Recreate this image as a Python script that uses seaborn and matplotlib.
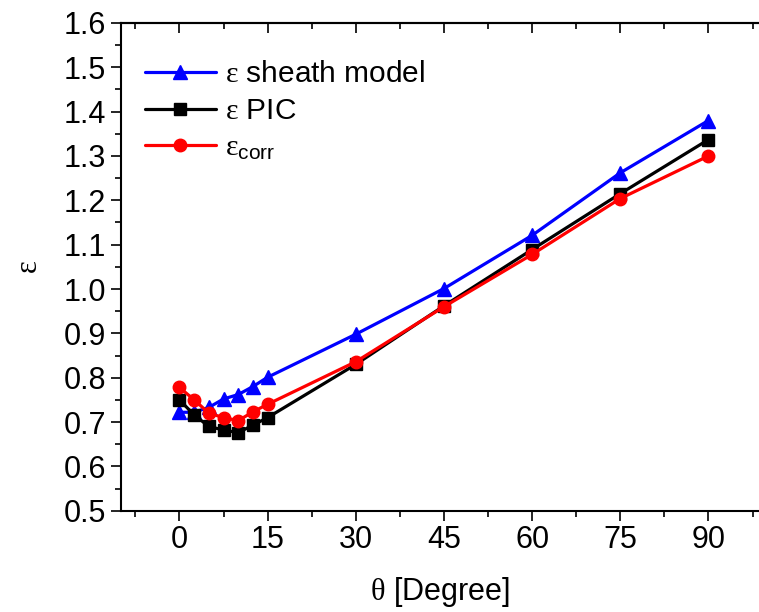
import matplotlib
matplotlib.use('Agg')
import numpy as np
import pandas as pd
import matplotlib.pyplot as plt
from matplotlib.ticker import MultipleLocator
import seaborn as sns

# data
theta = [0, 2.5, 5, 7.5, 10, 12.5, 15, 30, 45, 60, 75, 90]
eps_sheath = [0.722, 0.722, 0.733, 0.752, 0.762, 0.780, 0.801, 0.898, 1.001, 1.121, 1.262, 1.380]
eps_pic = [0.750, 0.716, 0.690, 0.682, 0.676, 0.693, 0.710, 0.830, 0.962, 1.089, 1.215, 1.337]
eps_corr = [0.778, 0.750, 0.720, 0.710, 0.703, 0.723, 0.740, 0.836, 0.960, 1.078, 1.204, 1.300]

labels = [r'$\mathit{ε}$ sheath model', r'$\mathit{ε}$ PIC', r'$\mathit{ε}_{\mathrm{corr}}$']
colors = ['#0000ff', '#000000', '#ff0000']
markers = ['^', 's', 'o']
sizes = [10.5, 8, 9]

sns.set_theme(style='ticks')
plt.rcParams['font.family'] = ['Liberation Sans', 'DejaVu Sans']
plt.rcParams['mathtext.fontset'] = 'custom'
plt.rcParams['mathtext.rm'] = 'Liberation Sans'
plt.rcParams['mathtext.it'] = 'Liberation Serif'
plt.rcParams['mathtext.bf'] = 'Liberation Sans:bold'
for k in ['text.color', 'axes.labelcolor', 'xtick.color', 'ytick.color', 'axes.edgecolor']:
    plt.rcParams[k] = 'black'

fig = plt.figure(figsize=(7.59, 6.12), dpi=100)
ax = fig.add_axes([0.159, 0.1655, 0.841, 0.797])

series = [eps_sheath, eps_pic, eps_corr]
for vals, lab, c, m, ms in zip(series, labels, colors, markers, sizes):
    df = pd.DataFrame({'theta': theta, 'eps': vals})
    sns.lineplot(data=df, x='theta', y='eps', ax=ax, color=c, marker=m,
                 markersize=ms, markeredgecolor=c, markeredgewidth=1,
                 linewidth=2.3, label=lab)

ax.set_xlim(-10, 98.6)
ax.set_ylim(0.5, 1.6)
ax.set_xticks([0, 15, 30, 45, 60, 75, 90])
ax.xaxis.set_minor_locator(MultipleLocator(7.5))
ax.yaxis.set_major_locator(MultipleLocator(0.1))
ax.yaxis.set_minor_locator(MultipleLocator(0.05))
ax.yaxis.set_major_formatter(matplotlib.ticker.FormatStrFormatter('%.1f'))

ax.tick_params(which='major', direction='out', length=7, width=1.2, labelsize=22)
ax.tick_params(which='minor', direction='out', length=4, width=1.2)
for t in ax.get_xticklabels():
    t.set_fontfamily(['Liberation Sans Narrow', 'Liberation Sans'])

ax.spines['right'].set_visible(False)
for s in ['left', 'bottom', 'top']:
    ax.spines[s].set_linewidth(1.5)

# top axis: inward ticks, no labels
top = ax.secondary_xaxis('top')
top.set_xticks([0, 15, 30, 45, 60, 75, 90])
top.xaxis.set_minor_locator(MultipleLocator(7.5))
top.tick_params(which='major', direction='in', length=7, width=1.2, labeltop=False)
top.tick_params(which='minor', direction='in', length=4, width=1.2)
top.spines['top'].set_linewidth(1.5)

ax.set_xlabel(r'$\mathit{θ}$ [Degree]', fontsize=22, labelpad=14,
              fontfamily=['Liberation Sans Narrow', 'Liberation Sans'])
ax.set_ylabel(r'$\mathit{ε}$', fontsize=22, labelpad=14)

ax.legend(loc='upper left', bbox_to_anchor=(0.0, 0.973), frameon=False,
          fontsize=21.5, handlelength=2.4, handletextpad=0.3,
          labelspacing=0.3, borderaxespad=0.4)

fig.savefig('out.png', dpi=100)
